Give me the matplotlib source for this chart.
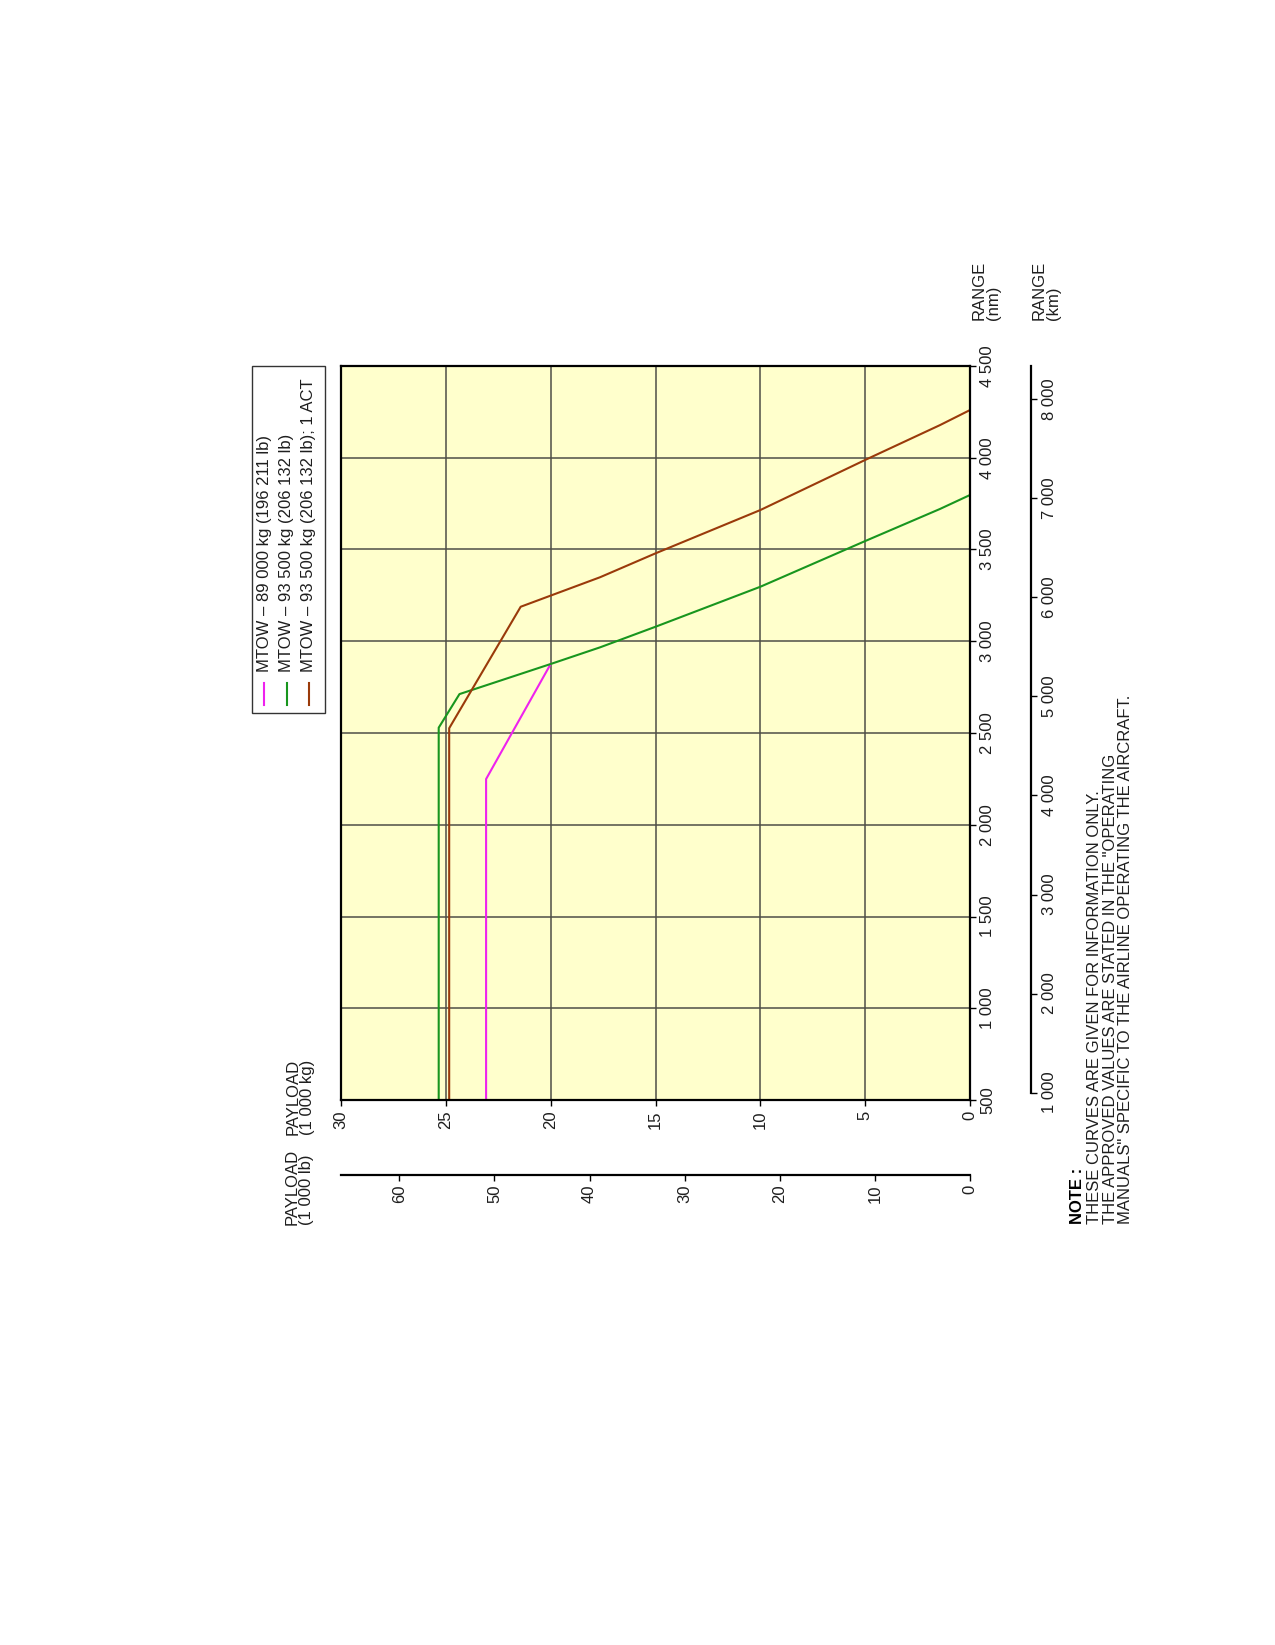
import matplotlib.pyplot as plt
from matplotlib.lines import Line2D
from matplotlib.patches import Rectangle

plt.rcParams['font.family'] = ['Liberation Sans', 'DejaVu Sans']

# datos (payload en 1000 kg, alcance en nm)
mag_payload = [23.08, 23.08, 20.0]
mag_range = [500, 2249, 2876]

grn_payload = [25.34, 25.34, 24.35, 20.0, 17.64, 15.0, 10.0, 5.0, 1.43, 0.0]
grn_range = [500, 2529, 2712, 2876, 2967, 3079, 3297, 3546, 3721, 3797]

brn_payload = [24.84, 24.84, 21.43, 17.64, 15.0, 10.0, 5.0, 1.43, 0.0]
brn_range = [500, 2526, 3188, 3349, 3479, 3715, 3988, 4178, 4260]

labels = ['MTOW \u2013 89 000 kg (196 211 lb)',
          'MTOW \u2013 93 500 kg (206 132 lb)',
          'MTOW \u2013 93 500 kg (206 132 lb); 1 ACT']
colors = ['#ee22ee', '#18961e', '#9a3a0a']

kg_ticks = [0, 5, 10, 15, 20, 25, 30]
nm_ticks = [500, 1000, 1500, 2000, 2500, 3000, 3500, 4000, 4500]
lb_ticks = [0, 10, 20, 30, 40, 50, 60]
km_ticks = [1000, 2000, 3000, 4000, 5000, 6000, 7000, 8000]

W, H = 1275, 1645
TXT = '#1e1e1e'
FS = 12


def fx(px):
    return px / W


def fy(py):
    return 1 - py / H


def fmt(v):
    return f'{v:,}'.replace(',', ' ')


fig = plt.figure(figsize=(12.75, 16.45), dpi=100)

# eje principal (rotado: payload en horizontal, alcance en vertical)
L, R, T, B = 341, 970, 366, 1100
ax = fig.add_axes([fx(L), fy(B), fx(R - L), (B - T) / H])
ax.set_facecolor('#ffffcc')
ax.set_xlim(30, 0)
ax.set_ylim(500, 4500)
ax.set_xticks(kg_ticks)
ax.set_xticklabels([fmt(v) for v in kg_ticks], rotation=90, fontsize=FS, color=TXT)
ax.set_yticks(nm_ticks)
ax.yaxis.tick_right()
ax.set_yticklabels([fmt(v) for v in nm_ticks], rotation=90, fontsize=FS, color=TXT, va='center')
ax.tick_params(axis='x', direction='out', length=4.5, width=1, pad=3)
ax.tick_params(axis='y', direction='out', length=4.5, width=1, pad=3)
ax.grid(True, color='#4e4e46', linewidth=1.1)
ax.set_axisbelow(True)
for s in ax.spines.values():
    s.set_linewidth(1.6)
    s.set_color('black')

ax.plot(mag_payload, mag_range, color=colors[0], lw=1.5)
ax.plot(grn_payload, grn_range, color=colors[1], lw=1.5)
ax.plot(brn_payload, brn_range, color=colors[2], lw=1.5)

# eje secundario payload en 1000 lb
lb_y = 1175
axl = fig.add_axes([fx(L), fy(lb_y), fx(R - L), 0.0001])
axl.set_xlim(30 / 0.45359237, 0)
axl.set_xticks(lb_ticks)
axl.set_xticklabels([fmt(v) for v in lb_ticks], rotation=90, fontsize=FS, color=TXT)
axl.set_yticks([])
axl.patch.set_visible(False)
for k in ['left', 'right', 'top']:
    axl.spines[k].set_visible(False)
axl.spines['bottom'].set_linewidth(1.6)
axl.tick_params(axis='x', direction='out', length=4, width=1, pad=3)

# eje secundario alcance en km
km_x = 1031
axk = fig.add_axes([fx(km_x) - 0.0001, fy(B), 0.0001, (B - T) / H])
axk.set_ylim(500 * 1.852, 4500 * 1.852)
axk.yaxis.tick_right()
axk.set_yticks(km_ticks)
axk.set_yticklabels([fmt(v) for v in km_ticks], rotation=90, fontsize=FS, color=TXT, va='center')
axk.set_xticks([])
axk.patch.set_visible(False)
for k in ['left', 'bottom', 'top']:
    axk.spines[k].set_visible(False)
axk.spines['right'].set_linewidth(1.6)
axk.spines['right'].set_bounds(1000, 4500 * 1.852)
axk.tick_params(axis='y', direction='out', length=4, width=1, pad=4)

# titulos de ejes
fig.text(fx(286), fy(1135), 'PAYLOAD\n(1 000 kg)', rotation=90, ha='left', va='bottom',
         fontsize=FS, color=TXT, linespacing=0.95)
fig.text(fx(285), fy(1225), 'PAYLOAD\n(1 000 lb)', rotation=90, ha='left', va='bottom',
         fontsize=FS, color=TXT, linespacing=0.95)
fig.text(fx(972), fy(320), 'RANGE\n(nm)', rotation=90, ha='left', va='bottom',
         fontsize=FS, color=TXT, linespacing=0.95)
fig.text(fx(1032), fy(320), 'RANGE\n(km)', rotation=90, ha='left', va='bottom',
         fontsize=FS, color=TXT, linespacing=0.95)

# leyenda manual (rotada)
fig.add_artist(Rectangle((fx(252), fy(713)), fx(325 - 252), (713 - 366) / H,
                         facecolor='white', edgecolor='#333333', lw=1.0))
for i, (lab, col) in enumerate(zip(labels, colors)):
    x = 264 + i * 22.5
    fig.add_artist(Line2D([fx(x), fx(x)], [fy(705), fy(683)], color=col, lw=1.5))
    fig.text(fx(x), fy(672), lab, rotation=90, ha='center', va='bottom',
             fontsize=FS, color=TXT)

# nota
fig.text(fx(1070), fy(1224), 'NOTE :', rotation=90, ha='left', va='bottom',
         fontsize=FS, fontweight='bold', color='black')
fig.text(fx(1087), fy(1224),
         'THESE CURVES ARE GIVEN FOR INFORMATION ONLY.\n'
         'THE APPROVED VALUES ARE STATED IN THE "OPERATING\n'
         'MANUALS" SPECIFIC TO THE AIRLINE OPERATING THE AIRCRAFT.',
         rotation=90, ha='left', va='bottom', fontsize=FS, color=TXT, linespacing=1.05)

fig.savefig('out.png', dpi=100, facecolor='white')
